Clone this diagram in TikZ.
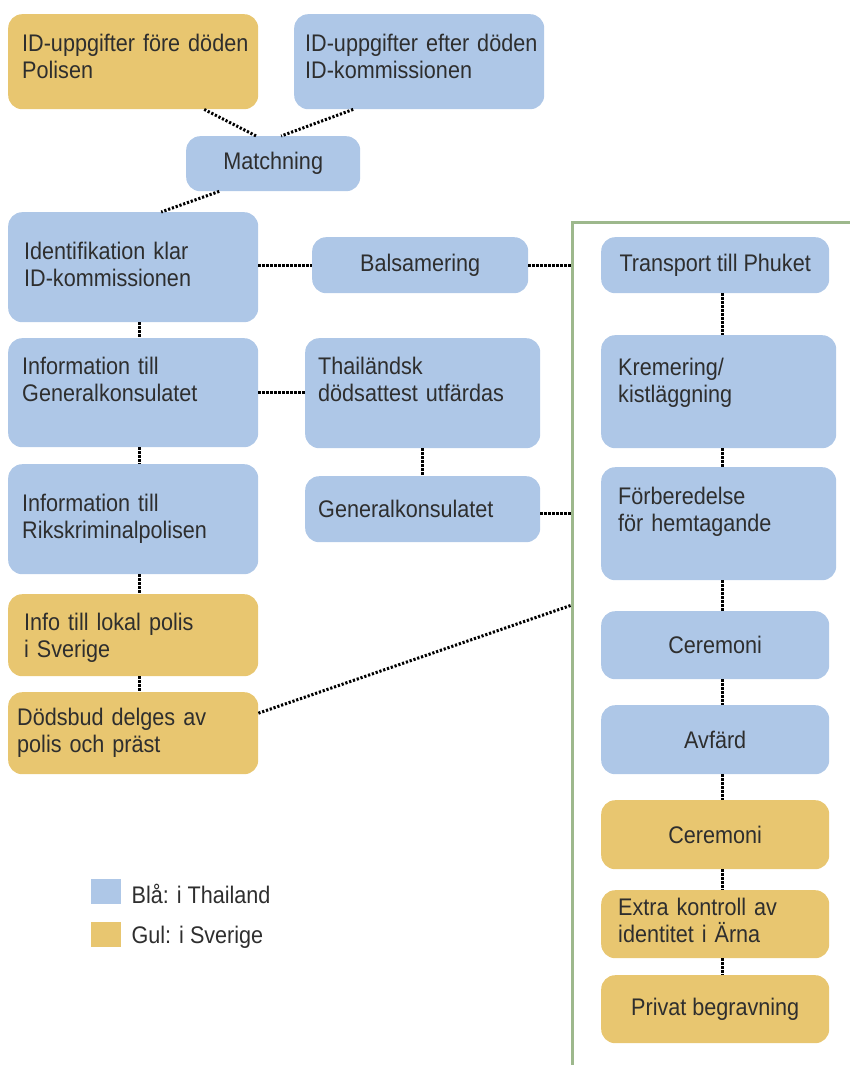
\documentclass[tikz,border=0pt]{standalone}
\usepackage{fontspec}
\setmainfont{Liberation Sans}[FakeStretch=0.9]
\definecolor{thaiblue}{HTML}{AEC7E7}
\definecolor{svgul}{HTML}{E8C670}
\definecolor{ramgreen}{HTML}{9DB88C}
\definecolor{textgray}{HTML}{2E2E2E}

\begin{document}
\begin{tikzpicture}[x=1pt, y=-1pt,
	every node/.style = {font=\fontsize{24}{27}\selectfont, text=textgray, inner sep=0pt},
	box/.style = {rounded corners=14pt, anchor=north west},
	bla/.style = {box, fill=thaiblue},
	gul/.style = {box, fill=svgul},
	txt/.style = {anchor=base west, align=left, text width=240pt},
	prick/.style = {line width=3pt, dash pattern=on 2.2pt off 1.8pt}]

	\useasboundingbox (0,0) rectangle (850,1065);

	% ram runt Thailand-kolumnen
	\draw[ramgreen, line width=3pt] (850,222) -- (572,222) -- (572,1065);
	\coordinate (ram) at (572,222);
	\coordinate (ramdiag) at (572,605);
	\coordinate (vx) at (139,0);
	\coordinate (kolx) at (722,0);

	% vänster
	\node[gul, minimum width=250pt, minimum height=95pt] (polisen) at (8,14) {};
	\node[bla, minimum width=250pt, minimum height=95pt] (idkomm) at (294,14) {};
	\node[bla, minimum width=174pt, minimum height=55pt] (match) at (186,136) {Matchning};
	\node[bla, minimum width=250pt, minimum height=110pt] (idklar) at (8,212) {};
	\node[bla, minimum width=216pt, minimum height=56pt] (balsam) at (312,237) {Balsamering};
	\node[bla, minimum width=250pt, minimum height=109pt] (infogk) at (8,338) {};
	\node[bla, minimum width=235pt, minimum height=110pt] (attest) at (305,338) {};
	\node[bla, minimum width=250pt, minimum height=110pt] (inforkp) at (8,464) {};
	\node[bla, minimum width=235pt, minimum height=66pt] (genkons) at (305,476) {};
	\node[gul, minimum width=250pt, minimum height=82pt] (lokal) at (8,594) {};
	\node[gul, minimum width=250pt, minimum height=82pt] (dodsbud) at (8,692) {};

	% höger
	\node[bla, minimum width=228pt, minimum height=56pt] (transport) at (601,237) {Transport till Phuket};
	\node[bla, minimum width=235pt, minimum height=113pt] (kremering) at (601,335) {};
	\node[bla, minimum width=235pt, minimum height=113pt] (forbered) at (601,467) {};
	\node[bla, minimum width=228pt, minimum height=68pt] (cerem1) at (601,611) {Ceremoni};
	\node[bla, minimum width=228pt, minimum height=69pt] (avfard) at (601,705) {Avfärd};
	\node[gul, minimum width=228pt, minimum height=69pt] (cerem2) at (601,800) {Ceremoni};
	\node[gul, minimum width=228pt, minimum height=68pt] (extra) at (601,890) {};
	\node[gul, minimum width=228pt, minimum height=68pt] (privat) at (601,975) {Privat begravning};

	% texter
	\node[txt] (t-polisen) at (22,52) {ID-uppgifter före döden\\Polisen};
	\node[txt] (t-idkomm) at (305,52) {ID-uppgifter efter döden\\ID-kommissionen};
	\node[txt] (t-idklar) at (24,259) {Identifikation klar\\ID-kommissionen};
	\node[txt] (t-infogk) at (22,374) {Information till\\Generalkonsulatet};
	\node[txt] (t-attest) at (318,374) {Thailändsk\\dödsattest utfärdas};
	\node[txt] (t-inforkp) at (22,511) {Information till\\Rikskriminalpolisen};
	\node[txt] (t-genkons) at (318,517) {Generalkonsulatet};
	\node[txt] (t-lokal) at (24,630) {Info till lokal polis\\i Sverige};
	\node[txt] (t-dodsbud) at (17,725) {Dödsbud delges av\\polis och präst};
	\node[txt] (t-kremering) at (618,375) {Kremering/\\kistläggning};
	\node[txt] (t-forbered) at (618,504) {Förberedelse\\för hemtagande};
	\node[txt] (t-extra) at (618,915) {Extra kontroll av\\identitet i Ärna};

	% förklaring
	\node[fill=thaiblue, minimum width=30pt, minimum height=25pt, anchor=north west] (legbla) at (91,879) {};
	\node[anchor=west] (t-legbla) at ([xshift=10pt, yshift=-2pt]legbla.east) {Blå: i Thailand};
	\node[fill=svgul, minimum width=30pt, minimum height=25pt, anchor=north west] (leggul) at (91,922) {};
	\node[anchor=west] (t-leggul) at ([xshift=10pt, yshift=-3pt]leggul.east) {Gul: i Sverige};

	% prickade linjer
	\draw[prick] ([xshift=71pt]polisen.south) -- ([xshift=-17pt]match.north);
	\draw[prick] ([xshift=-66pt]idkomm.south) -- ([xshift=8pt]match.north);
	\draw[prick] ([xshift=-54pt]match.south) -- ([xshift=28pt]idklar.north);
	\draw[prick] (balsam.west -| idklar.east) -- (balsam.west);
	\draw[prick] (balsam.east) -- (balsam.east -| ram);
	\draw[prick] (infogk.east) -- (infogk.east -| attest.west);
	\draw[prick] (attest.south) -- (genkons.north);
	\draw[prick] ([yshift=-4pt]genkons.east) -- ([yshift=-4pt]genkons.east -| ram);
	\draw[prick] ([yshift=20pt]dodsbud.east) -- (ramdiag);
	\foreach \a/\b in {idklar/infogk, infogk/inforkp, inforkp/lokal, lokal/dodsbud}
		\draw[prick] (\a.south -| vx) -- (\b.north -| vx);
	\foreach \a/\b in {transport/kremering, kremering/forbered, forbered/cerem1,
		cerem1/avfard, avfard/cerem2, cerem2/extra, extra/privat}
		\draw[prick] (\a.south -| kolx) -- (\b.north -| kolx);
\end{tikzpicture}
\end{document}
